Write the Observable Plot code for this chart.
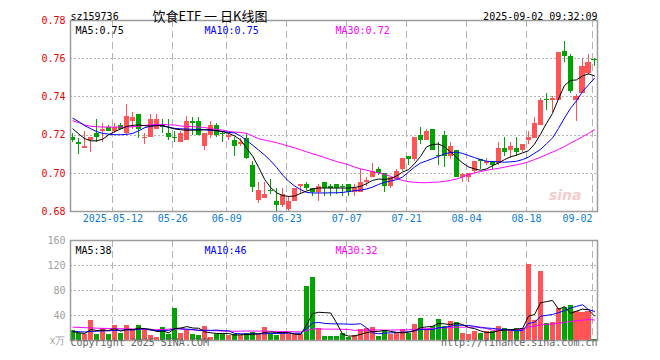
<!DOCTYPE html>
<html><head><meta charset="utf-8">
<script src="https://cdn.jsdelivr.net/npm/d3@7"></script>
<script src="https://cdn.jsdelivr.net/npm/@observablehq/plot@0.6"></script>
<style>
html,body{margin:0;padding:0;background:#fff;}
#wrap{position:relative;width:660px;height:360px;overflow:hidden;}
#wrap svg{position:absolute;left:0;}
</style></head><body><div id="wrap"></div>
<script>
// ---------- data ----------
const code = "sz159736";
const title = "饮食ETF 一 日K线图";
const stamp = "2025-09-02 09:32:09";
const tickIdx = [7, 17, 26, 36, 46, 56, 66, 76, 87];
const tickLabels = ["2025-05-12", "05-26", "06-09", "06-23", "07-07", "07-21", "08-04", "08-18", "09-02"];
const priceTicks = [0.68, 0.70, 0.72, 0.74, 0.76, 0.78];
const volTicks = [0, 40, 80, 120, 160];
const priceLegend = ["MA5:0.75", "MA10:0.75", "MA30:0.72"];
const volLegend = ["MA5:38", "MA10:46", "MA30:32"];

const open = [.719,.716,.713,.717,.721,.722,.724,.722,.725,.721,
.727,.731,.718,.719,.723,.725,.721,.719,.716,.717,
.727,.727,.714,.720,.725,.721,.719,.717,.715,.718,
.704,.686,.687,.691,.685,.683,.681,.685,.693,.694,
.692,.690,.695,.693,.694,.693,.694,.690,.690,.695,
.698,.702,.700,.693,.697,.702,.709,.707,.720,.717,
.723,.7095,.720,.709,.712,.698,.698,.701,.707,.705,
.706,.705,.713,.712,.713,.712,.717,.718,.725,.7385,
.738,.738,.764,.761,.738,.742,.752,.7595];
const close = [.717,.715,.714,.719,.719,.723,.722,.724,.723,.730,
.729,.723,.719,.728,.728,.724,.719,.718,.721,.727,
.726,.720,.721,.725,.720,.7205,.720,.714,.716,.708,
.6925,.691,.689,.6905,.683,.689,.685,.692,.694,.692,
.690,.693,.692,.692,.692,.6925,.690,.692,.695,.696,
.701,.700,.693,.698,.701,.708,.707,.719,.717,.722,
.712,.709,.709,.714,.698,.6995,.700,.706,.706,.706,
.704,.713,.711,.714,.711,.715,.719,.726,.738,.738,
.739,.763,.761,.743,.740,.756,.758,.759];
const high = [.721,.718,.722,.719,.728,.726,.725,.726,.726,.736,
.732,.731,.721,.731,.731,.728,.728,.722,.722,.730,
.729,.729,.721,.727,.726,.722,.721,.719,.718,.721,
.706,.695,.695,.697,.692,.692,.688,.692,.694,.695,
.692,.694,.695,.694,.694,.694,.694,.694,.702,.698,
.705,.703,.700,.698,.702,.708,.709,.719,.724,.723,
.723,.716,.722,.716,.712,.700,.700,.706,.707,.708,
.706,.716,.719,.716,.719,.715,.722,.729,.739,.742,
.740,.763,.769,.762,.741,.760,.762,.760];
const low = [.716,.710,.713,.711,.716,.716,.722,.721,.723,.720,
.723,.718,.715,.719,.723,.721,.717,.716,.716,.717,
.720,.720,.712,.718,.719,.716,.717,.709,.714,.707,
.690,.684,.687,.689,.680,.682,.680,.685,.689,.691,
.688,.685,.688,.688,.689,.688,.688,.688,.690,.693,
.698,.699,.690,.692,.697,.701,.704,.706,.715,.717,
.712,.704,.703,.707,.698,.695,.695,.700,.702,.704,
.702,.704,.709,.708,.709,.711,.715,.718,.725,.733,
.732,.738,.758,.742,.727,.742,.751,.756];
const ma5 = [.7233,.7205,.7181,.7170,.7170,.7179,.7202,.7219,.7232,.7246,
.7251,.7253,.7249,.7247,.7249,.7251,.7240,.7232,.7228,.7225,
.7226,.7226,.7228,.7228,.7223,.7218,.7209,.7195,.7174,.7130,
.7089,.7030,.6967,.6925,.6898,.6883,.6879,.6881,.6895,.6907,
.6918,.6923,.6923,.6923,.6923,.6923,.6923,.6926,.6932,.6946,
.6963,.6970,.6968,.6972,.6986,.7007,.7019,.7051,.7089,.7139,
.7151,.7153,.7139,.7112,.7082,.7054,.7033,.7023,.7016,.7023,
.7040,.7054,.7072,.7086,.7095,.7107,.7118,.7153,.7205,.7262,
.7314,.7390,.7460,.7486,.7489,.7510,.7521,.7510];
const ma10 = [.7288,.7270,.7249,.7233,.7218,.7209,.7205,.7202,.7202,.7204,
.7209,.7223,.7239,.7247,.7253,.7247,.7242,.7235,.7233,.7232,
.7230,.7230,.7228,.7225,.7223,.7219,.7214,.7211,.7195,.7170,
.7147,.7121,.7095,.7065,.7030,.6990,.6958,.6933,.6914,.6900,
.6897,.6897,.6897,.6898,.6898,.6900,.6904,.6909,.6912,.6918,
.6928,.6942,.6953,.6960,.6967,.6981,.7007,.7033,.7054,.7065,
.7077,.7089,.7102,.7109,.7111,.7104,.7093,.7082,.7072,.7063,
.7061,.7060,.7058,.7060,.7063,.7072,.7085,.7105,.7125,.7155,
.7185,.7235,.7290,.7340,.7380,.7428,.7463,.7498];
const ma30 = [.7275,.7265,.7253,.7246,.7244,.7242,.7242,.7242,.7242,.7242,
.7244,.7247,.7251,.7254,.7256,.7256,.7254,.7253,.7247,.7246,
.7244,.7242,.7240,.7233,.7230,.7226,.7219,.7216,.7214,.7209,
.7195,.7181,.7174,.7167,.7160,.7151,.7142,.7133,.7123,.7112,
.7102,.7093,.7082,.7072,.7061,.7053,.7044,.7033,.7023,.7016,
.7009,.7002,.6995,.6984,.6972,.6963,.6956,.6953,.6951,.6951,
.6953,.6954,.6958,.6963,.6970,.6981,.6993,.7002,.7009,.7016,
.7021,.7026,.7032,.7039,.7044,.7051,.7060,.7072,.7084,.7098,
.7111,.7125,.7140,.7158,.7174,.7191,.7209,.7228];
const volume = [16,12,10,32,10,19,10,24,12,24,
16,24,18,8,5,21,10,52,12,16,
10,8,23,5,10,10,8,10,8,12,
13,10,21,12,8,13,9,9,9,87,
101,20,6,6,6,12,5,8,18,20,
21,6,16,10,12,17,12,26,36,18,
22,34,23,30,29,12,10,14,12,15,
14,23,19,16,19,19,122,32,110,28,
29,51,53,56,46,45,46,2];
const vma5 = [14.4,12.3,11.2,17.6,16,16.6,16.2,19,15,17.8,
17.2,20,18.8,18,14.2,15.2,12.4,19.2,20,22.2,
20,19.6,13.8,12.4,11.2,11.2,11.2,8.6,9.2,9.6,
10.2,10.6,12.8,13.6,12.8,12.8,12.6,10.2,9.6,25.4,
43,45.2,44.6,44,27.8,10,7,7.4,9.8,12.6,
14.4,14.6,16.2,14.6,13,12.2,13.4,15.4,20.6,21.8,
22.8,27.2,26.6,25.4,27.6,25.6,20.8,19,15.4,12.6,
13,15.6,16.6,17.4,18.2,19.2,39,41.6,60.4,62.2,
64.2,50,54.2,43.4,47,50.2,49.2,39];
const vma10 = [14.4,14,13.6,14.4,14.9,15.5,15.5,16,16.5,16.9,
16.9,18.1,18.9,16.5,16,16.2,16.2,19,19,18.2,
17.6,16,16.5,16.2,16.7,15.6,15.4,11.2,10.8,10.4,
10.7,10.9,10.7,11.4,11.2,11.5,11.6,11.5,11.6,19.1,
27.9,28.9,27.4,26.8,26.6,26.5,26.1,26,26.9,20.2,
12.2,10.8,11.8,12.2,12.8,13.3,14,15.8,17.6,17.4,
17.5,20.3,21,23,24.7,24.2,24,22.8,20.4,20.1,
19.3,18.2,17.8,16.4,15.4,16.1,27.3,29.1,38.9,40.2,
41.7,44.5,47.9,51.9,54.6,57.2,49.6,46.6];
const vma30 = [21.3,21,20.5,20.2,19.7,19.5,19.3,19.1,18.9,18.7,
18.4,18.1,17.6,17.2,17.3,17.6,18.2,18.7,18.2,17.6,
17.1,16.5,16.3,16,15.6,15.2,15,14.8,15,15.2,
15.1,15,15.4,14.7,14.6,14.4,14.4,13.9,13.8,15.9,
18.7,18.6,18.2,18.1,18.2,17.9,17.7,16.2,16.4,16.6,
16.9,16.9,16.6,16.8,16.9,17.1,17.2,17.8,18.7,18.9,
19.2,20,20.1,20.7,21.4,21.3,21.4,21.5,21.6,19.2,
16.3,16.4,16.9,17.2,17.6,17.9,21.8,22.6,25.6,25.9,
26.2,27.7,28.9,30.4,31.6,32.5,33.6,32.8];

// ---------- build ----------
const N = close.length;
const idx = d3.range(N);
const candles = idx.map(i => ({i, o: open[i], h: high[i], l: low[i], c: close[i], v: volume[i], up: close[i] >= open[i]}));
const UP = "#ff5454", DOWN = "#00a400";
const col = d => d.up ? UP : DOWN;
const xDomain = [-0.4, N - 0.5];
const MONO = "'DejaVu Sans Mono', 'Liberation Mono', monospace";
const GRID = "#b4b4b4";
const lineSeries = (arr, stroke) => Plot.line(idx, {x: i => i, y: i => arr[i], stroke, strokeWidth: 1});

const main = Plot.plot({
  width: 660, height: 232,
  marginLeft: 70, marginRight: 63, marginTop: 20, marginBottom: 21,
  x: {domain: xDomain, axis: null},
  y: {domain: [0.68, 0.78]},
  style: {fontFamily: MONO, fontSize: "10px", background: "transparent", overflow: "visible"},
  marks: [
    Plot.ruleY(priceTicks.slice(1, -1), {stroke: GRID, strokeDasharray: "2,2", shapeRendering: "crispEdges"}),
    Plot.ruleX(tickIdx, {x: d => d, dx: -2, stroke: GRID, strokeDasharray: "7,4", shapeRendering: "crispEdges"}),
    Plot.text(["sina"], {text: d => d, frameAnchor: "bottom-right", dx: -16, dy: -12, fill: "#f3cdcd", fontSize: 14, fontStyle: "italic", fontWeight: "bold", fontFamily: "'DejaVu Sans', sans-serif"}),
    Plot.ruleX(candles, {x: "i", y1: "l", y2: "h", stroke: col, shapeRendering: "crispEdges"}),
    Plot.rect(candles, {x1: d => d.i - 0.42, x2: d => d.i + 0.42, y1: "o", y2: "c", fill: col, shapeRendering: "crispEdges"}),
    lineSeries(ma30, "#ff00ff"),
    lineSeries(ma10, "#0000ff"),
    lineSeries(ma5, "#000000"),
    Plot.frame({stroke: "#9c9c9c", strokeWidth: 1.5}),
    Plot.axisY(priceTicks, {tickSize: 0, tickPadding: 5, tickFormat: d3.format(".2f"), color: "#ee0000", label: null}),
    Plot.text(tickIdx.slice(0, -1), {x: d => d, text: (d, j) => tickLabels[j], frameAnchor: "bottom", dx: -2, dy: 10, fill: "#0a7bd6"}),
    Plot.text(tickIdx.slice(-1), {x: d => d, text: () => tickLabels[tickLabels.length - 1], frameAnchor: "bottom", textAnchor: "end", dx: -2, dy: 10, fill: "#0a7bd6"}),
    Plot.text([code], {text: d => d, frameAnchor: "top-left", textAnchor: "start", dy: -8, fill: "#000"}),
    Plot.text([stamp], {text: d => d, frameAnchor: "top-right", textAnchor: "end", dy: -8, fill: "#000"}),
    Plot.text([title], {text: d => d, frameAnchor: "top", dx: -124, dy: -9, fill: "#000", fontSize: 13, fontFamily: "'Noto Sans CJK SC', sans-serif"}),
    Plot.text([priceLegend[0]], {text: d => d, frameAnchor: "top-left", textAnchor: "start", dx: 5, dy: 6, fill: "#000"}),
    Plot.text([priceLegend[1]], {text: d => d, frameAnchor: "top-left", textAnchor: "start", dx: 134, dy: 6, fill: "#0000ff"}),
    Plot.text([priceLegend[2]], {text: d => d, frameAnchor: "top-left", textAnchor: "start", dx: 265, dy: 6, fill: "#ff00ff"})
  ]
});

const vol = Plot.plot({
  width: 660, height: 128,
  marginLeft: 70, marginRight: 63, marginTop: 8, marginBottom: 20,
  x: {domain: xDomain, axis: null},
  y: {domain: [0, 160]},
  style: {fontFamily: MONO, fontSize: "10px", background: "transparent", overflow: "visible"},
  marks: [
    Plot.ruleY(volTicks.slice(1, -1), {stroke: GRID, strokeDasharray: "2,2", shapeRendering: "crispEdges"}),
    Plot.ruleX(tickIdx, {x: d => d, dx: -2, stroke: GRID, strokeDasharray: "7,4", shapeRendering: "crispEdges"}),
    Plot.rect(candles, {x1: d => d.i - 0.42, x2: d => d.i + 0.42, y1: 0, y2: "v", fill: col, shapeRendering: "crispEdges"}),
    lineSeries(vma30, "#ff00ff"),
    lineSeries(vma10, "#0000ff"),
    lineSeries(vma5, "#000000"),
    Plot.frame({stroke: "#9c9c9c", strokeWidth: 1.5}),
    Plot.axisY(volTicks, {tickSize: 0, tickPadding: 5, tickFormat: d => d === 0 ? "x万" : String(d), color: "#a0a0a0", label: null}),
    Plot.text([volLegend[0]], {text: d => d, frameAnchor: "top-left", textAnchor: "start", dx: 5, dy: 6.5, fill: "#000"}),
    Plot.text([volLegend[1]], {text: d => d, frameAnchor: "top-left", textAnchor: "start", dx: 134, dy: 6.5, fill: "#0000ff"}),
    Plot.text([volLegend[2]], {text: d => d, frameAnchor: "top-left", textAnchor: "start", dx: 265, dy: 6.5, fill: "#ff00ff"}),
    Plot.text(["Copyright 2025 SINA.COM"], {text: d => d, frameAnchor: "bottom-left", textAnchor: "start", dy: 5.5, fill: "#666"}),
    Plot.text(["http://finance.sina.com.cn"], {text: d => d, frameAnchor: "bottom-right", textAnchor: "end", dy: 5.5, fill: "#666"})
  ]
});

const wrap = document.getElementById("wrap");
main.style.top = "0px";
vol.style.top = "232px";
wrap.appendChild(main);
wrap.appendChild(vol);
</script>
</body></html>
